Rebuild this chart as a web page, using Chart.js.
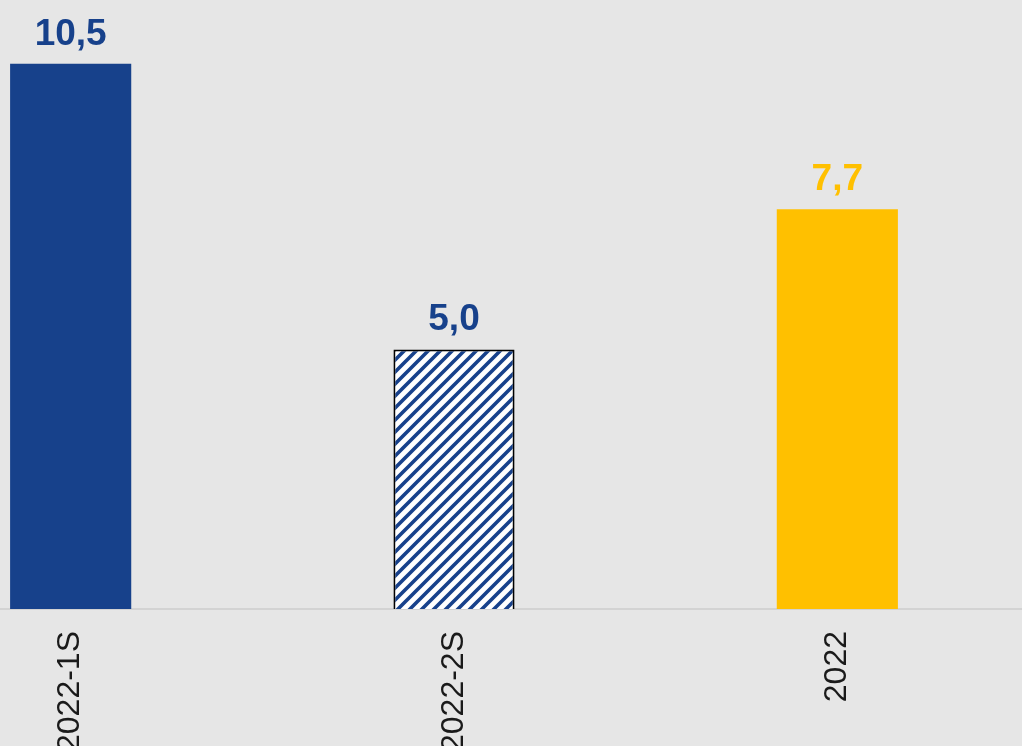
<!DOCTYPE html>
<html>
<head>
<meta charset="utf-8">
<script src="https://cdn.jsdelivr.net/npm/chart.js@4/dist/chart.umd.min.js"></script>
<style>
  html, body { margin:0; padding:0; width:1022px; height:746px; overflow:hidden; background:#e6e6e6; }
  #wrap { position:absolute; left:-121px; top:0; width:1150px; height:746px; }
</style>
</head>
<body>
<div id="wrap"><canvas id="c" width="1150" height="746"></canvas></div>
<script>
const categories = ['2022-1S', '2022-2S', '2022'];
const values = [10.5, 5.0, 7.7];
const valueLabels = ['10,5', '5,0', '7,7'];

const BLUE = '#17418b';
const YELLOW = '#ffc000';

function hatch() {
  const s = 12;
  const p = document.createElement('canvas');
  p.width = s; p.height = s;
  const g = p.getContext('2d');
  g.fillStyle = '#ffffff';
  g.fillRect(0, 0, s, s);
  g.strokeStyle = BLUE;
  g.lineWidth = 3.6;
  g.lineCap = 'square';
  g.beginPath();
  g.moveTo(0, s); g.lineTo(s, 0);
  g.moveTo(-s/2, s/2); g.lineTo(s/2, -s/2);
  g.moveTo(s/2, s + s/2); g.lineTo(s + s/2, s/2);
  g.stroke();
  return g.createPattern(p, 'repeat');
}

const ctx = document.getElementById('c').getContext('2d');
const pattern = hatch();

const valueLabelPlugin = {
  id: 'valueLabels',
  afterDatasetsDraw(chart) {
    const meta = chart.getDatasetMeta(0);
    const c = chart.ctx;
    c.save();
    c.font = 'bold 37px "Liberation Sans", Arial, sans-serif';
    c.textAlign = 'center';
    c.textBaseline = 'alphabetic';
    meta.data.forEach((bar, i) => {
      c.fillStyle = i === 2 ? YELLOW : BLUE;
      c.fillText(valueLabels[i], bar.x, bar.y - 19);
    });
    c.restore();
  }
};

new Chart(ctx, {
  type: 'bar',
  data: {
    labels: categories,
    datasets: [{
      data: values,
      backgroundColor: [BLUE, pattern, YELLOW],
      borderColor: ['rgba(0,0,0,0)', '#000000', 'rgba(0,0,0,0)'],
      borderWidth: [0, 2, 0],
      borderSkipped: 'start',
      barPercentage: 0.316,
      categoryPercentage: 1
    }]
  },
  options: {
    responsive: false,
    maintainAspectRatio: false,
    devicePixelRatio: 1,
    animation: false,
    layout: { padding: 0 },
    plugins: { legend: { display: false }, tooltip: { enabled: false }, title: { display: false } },
    scales: {
      x: {
        grid: { display: false, drawTicks: false },
        border: { display: true, color: '#d3d3d3', width: 2 },
        ticks: {
          autoSkip: false,
          minRotation: 90,
          maxRotation: 90,
          padding: 22,
          color: '#1a1a1a',
          font: { family: '"Liberation Sans", Arial, sans-serif', size: 32 }
        },
        afterFit(scale) { scale.height = 137; }
      },
      y: {
        display: false,
        min: 0,
        max: 11.73
      }
    }
  },
  plugins: [valueLabelPlugin]
});
</script>
</body>
</html>
